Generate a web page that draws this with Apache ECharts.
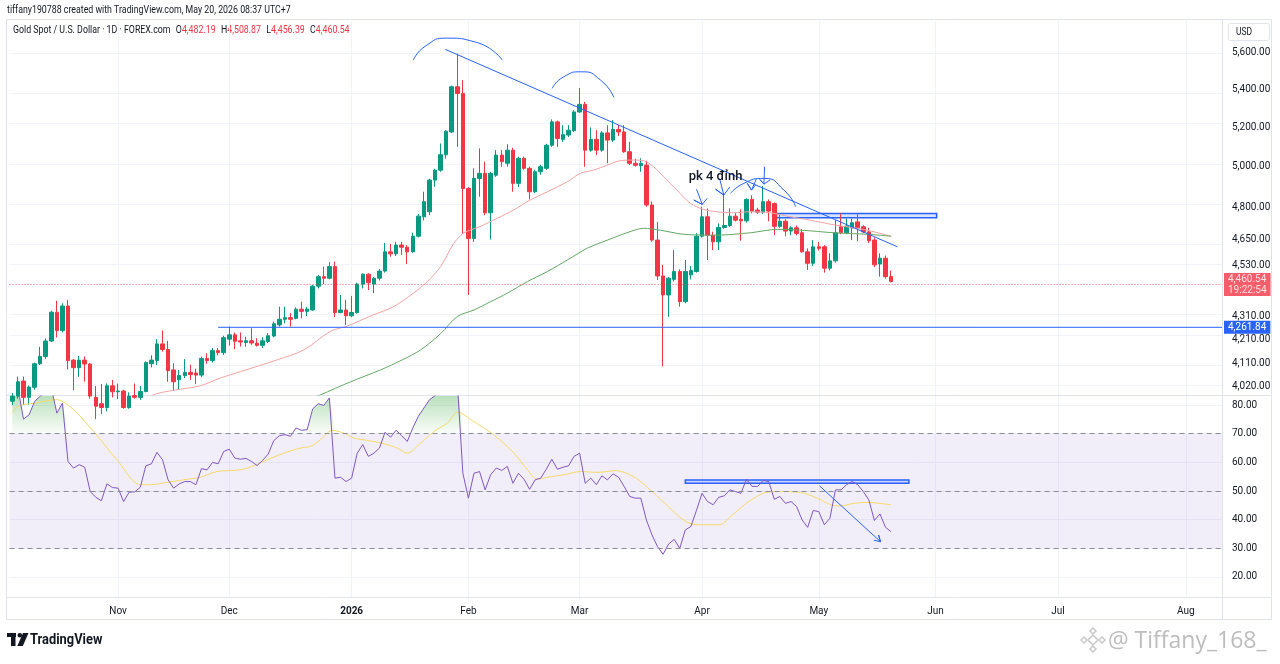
<!DOCTYPE html>
<html>
<head>
<meta charset="utf-8">
<script src="https://cdn.jsdelivr.net/npm/echarts@6/dist/echarts.min.js"></script>
<style>html,body{margin:0;padding:0;background:#fff;}#c{width:1280px;height:664px;}</style>
</head>
<body>
<div id="c"></div>
<script>
const FONT = 'Roboto, "Liberation Sans", sans-serif';
const AXIS_FS = 10;

// ---- categories (trading days) ----
const firstDay = '2025-10-07', lastDay = '2026-08-11';
const holidays = ['2025-12-25', '2026-01-01', '2026-04-03'];
const monthTicks = [['2025-11-03','Nov'],['2025-12-01','Dec'],['2026-01-02','2026'],['2026-02-02','Feb'],['2026-03-02','Mar'],
  ['2026-04-01','Apr'],['2026-05-01','May'],['2026-06-01','Jun'],['2026-07-01','Jul'],['2026-08-03','Aug']];
const priceTicks = [5600, 5400, 5200, 5000, 4800, 4650, 4530, 4310, 4210, 4110, 4020];
const rsiTicks = [80, 70, 60, 50, 40, 30, 20];
const priceRange = [3984.3, 5791.3];
const rsiRange = [12.98, 83.18];

// ---- candles: [open, high, low, close] from 2025-10-07 ----
const ohlc = [
[3960,3992,3945,3980],[3980,4058,3970,4037],[4040,4058,3945,3975],[3975,4022,3945,4016],[4015,4115,4005,4110],
[4110,4180,4105,4140],[4140,4215,4130,4204],[4204,4333,4200,4326],[4326,4376,4219,4248],[4248,4365,4240,4353],
[4353,4380,4087,4123],[4125,4130,4003,4094],[4094,4142,4057,4125],[4125,4140,4038,4109],[4109,4112,3970,3980],
[3975,4020,3890,3940],[3950,4028,3910,3935],[3935,4030,3920,4021],[4021,4044,3975,3997],[3997,4030,3968,4000],
[4000,4005,3930,3935],[3935,3995,3930,3980],[3982,4030,3970,3975],[3975,4020,3965,3998],[3998,4120,3995,4115],
[4110,4145,4095,4125],[4123,4212,4105,4192],[4192,4248,4160,4169],[4169,4205,4037,4082],[4085,4112,4003,4037],
[4045,4085,4006,4062],[4062,4129,4052,4075],[4075,4106,4045,4066],[4072,4090,4028,4064],[4064,4140,4055,4132],
[4132,4153,4110,4123],[4123,4175,4115,4164],[4164,4175,4145,4156],[4156,4226,4146,4218],[4212,4265,4185,4230],
[4230,4240,4170,4203],[4205,4240,4181,4200],[4198,4222,4180,4205],[4205,4258,4188,4196],[4195,4216,4181,4186],
[4186,4220,4175,4205],[4202,4237,4196,4226],[4225,4286,4220,4277],[4272,4350,4265,4296],[4296,4350,4279,4303],
[4303,4322,4265,4296],[4300,4347,4296,4339],[4339,4372,4300,4330],[4330,4350,4310,4340],[4336,4445,4333,4440],
[4440,4489,4430,4482],[4482,4527,4449,4475],[4475,4547,4470,4527],[4527,4550,4305,4325],[4325,4401,4322,4336],
[4336,4380,4272,4311],[4311,4397,4305,4325],[4325,4455,4320,4449],[4449,4497,4430,4493],[4493,4497,4423,4455],
[4449,4480,4409,4475],[4475,4516,4465,4507],[4507,4635,4500,4594],[4594,4630,4572,4585],[4585,4640,4575,4625],
[4625,4640,4580,4615],[4615,4625,4539,4594],[4594,4682,4590,4666],[4666,4770,4660,4760],[4757,4877,4740,4829],
[4781,4940,4765,4934],[4934,4990,4901,4983],[4983,5117,4975,5060],[5060,5185,5040,5180],[5176,5420,5170,5414],
[5414,5596,5100,5378],[5378,5450,4678,4893],[4893,4900,4401,4655],[4655,4992,4640,4942],[4942,5092,4853,4967],
[4967,5025,4765,4776],[4776,4975,4651,4967],[4958,5083,4950,5058],[5058,5083,5000,5025],[5017,5113,5000,5083],
[5083,5095,4877,4918],[4918,5050,4900,5042],[5042,5050,4985,4992],[4992,5000,4840,4877],[4877,4985,4870,4975],
[4975,5010,4960,5000],[4992,5115,4985,5108],[5108,5241,5100,5228],[5228,5235,5100,5142],[5138,5211,5125,5162],
[5160,5211,5150,5185],[5182,5289,5175,5280],[5280,5407,5275,5320],[5320,5333,5000,5083],[5083,5199,5075,5138],
[5138,5185,5058,5083],[5083,5180,5075,5171],[5171,5211,5017,5134],[5134,5237,5125,5189],[5189,5211,5155,5176],
[5176,5211,5070,5075],[5075,5125,5008,5017],[5017,5040,5000,5007],[5005,5042,4975,5017],[5008,5030,4805,4813],
[4813,4830,4640,4648],[4648,4733,4467,4485],[4485,4535,4099,4401],[4401,4480,4306,4475],[4470,4602,4460,4505],
[4505,4515,4350,4372],[4372,4557,4365,4505],[4490,4530,4470,4509],[4505,4680,4500,4666],[4666,4805,4660,4757],
[4757,4797,4557,4670],[4670,4687,4602,4640],[4640,4726,4602,4707],[4707,4861,4700,4716],[4716,4797,4710,4760],
[4760,4775,4735,4741],[4745,4792,4645,4738],[4738,4845,4730,4840],[4840,4860,4773,4784],[4789,4800,4770,4779],
[4780,4905,4770,4829],[4829,4840,4736,4784],[4820,4825,4671,4712],[4712,4773,4705,4736],[4736,4745,4666,4690],
[4690,4712,4670,4705],[4705,4716,4670,4679],[4682,4700,4590,4594],[4594,4610,4512,4542],[4542,4648,4530,4617],
[4617,4640,4600,4610],[4617,4625,4500,4520],[4520,4587,4510,4553],[4553,4741,4545,4682],[4710,4773,4675,4682],
[4682,4749,4675,4713],[4705,4749,4648,4729],[4733,4773,4643,4705],[4710,4717,4680,4686],[4686,4705,4635,4645],
[4648,4660,4525,4535],[4539,4587,4482,4565],[4565,4577,4473,4482],[4482.19,4508.87,4456.39,4460.54]
];
const lastPrice = 4460.54;
const lastLabel = ['4,460.54', '19:22:54'];
const supportLevel = 4261.84;

// ---- moving averages on price (read points: [bar index, price]) ----
const maFast = [[24,3970],[26,3990],[29.6,4005],[33.8,4021],[37.4,4052],[41,4078],[47.6,4126],[52.4,4167],[57.2,4245],
  [60.2,4267],[64.4,4310],[68.5,4350],[72.1,4409],[74.6,4460],[77,4527],[79.3,4630],[81.1,4680],[84.1,4711],[87.2,4750],
  [90.1,4789],[93.1,4837],[96.2,4877],[99.8,4926],[102.1,4967],[104.5,4983],[107,5008],[109.3,5030],[111.7,5033],
  [113.5,5030],[115.3,5000],[117.1,4950],[119.5,4885],[121.9,4821],[124.3,4792],[126.7,4781],[129.7,4776],[132.7,4781],
  [136.3,4776],[139.9,4757],[143.5,4741],[147.1,4722],[150.7,4707],[153.7,4694],[158,4666]];
const maSlow = [[54,3975],[55.4,3985],[60.8,4037],[66.2,4085],[70.1,4126],[73.4,4167],[77,4235],[80,4308],[83,4336],
  [86,4372],[89,4409],[92.6,4460],[96.2,4505],[99.8,4557],[103.4,4611],[107,4648],[110.5,4682],[113.5,4703],[116.5,4694],
  [120.7,4675],[126.7,4671],[132.7,4682],[137.6,4698],[141.9,4694],[147.7,4682],[153.7,4675],[158,4666]];

// ---- RSI ----
const rsi = [
85,86,75.1,76.6,81.3,83.1,84.5,86,77.2,80.7,
60.3,58.0,59.2,58.3,49.8,47.8,46.6,52.5,51.2,51.0,
46.3,49.6,49.7,51.3,58.8,59.5,63.5,60.9,53.9,51.0,
52.5,53.3,53.3,52.2,57.8,57.4,60.0,59.5,63.8,64.6,
61.5,61.1,61.4,60.3,58.9,60.7,62.9,67.6,69.3,69.7,
69.1,72.0,71.2,71.4,78.7,80.5,79.9,82.5,54.5,54.8,
53.3,54.5,63.2,66.2,62.1,63.2,65.0,70.5,68.8,71.2,
69.3,67.3,72.0,76.1,79.0,81.9,83.3,85,87,89,
88,56.2,47.5,56.2,56.8,50.4,55.7,58.0,57.2,58.6,
52.7,56.2,54.1,50.6,53.9,54.5,57.6,61.1,57.6,58.3,
58.8,62.1,63.2,52.7,54.5,52.2,55.3,53.9,56.0,54.8,
51.6,48.1,47.5,47.5,39.9,34.7,30.6,27.9,31.5,33.1,
30.0,36.4,37.6,43.2,49.2,46.3,45.2,47.8,48.3,50.4,
49.8,49.2,54.1,51.6,51.6,53.7,53.3,47.1,48.1,45.7,
46.3,44.6,39.9,37.3,43.2,42.8,38.2,40.5,50.4,50.4,
52.2,53.3,52.2,49.8,46.9,39.7,42.0,37.3,35.8];
const rsiMA = [[0,77.5],[1,79.6],[4,80.7],[8,81.9],[11,78.4],[14.6,70.8],[18.8,60.9],[23,52.2],[24.8,52.2],[27.8,53.0],
  [30.8,53.9],[33.8,54.8],[36.8,56.8],[41,57.4],[43.4,58.8],[45.8,60.9],[48.8,63.2],[51.8,65.0],[53.6,65.6],[55.4,67.9],
  [57.5,71.2],[59.6,70.2],[61.4,68.5],[63.8,67.7],[66.8,66.5],[69.2,65.0],[71,63.2],[73.4,66.7],[75.8,70.8],[78.2,73.7],
  [80.1,77.5],[82.9,74.3],[86.5,69.7],[90.2,63.2],[92.6,57.4],[94.4,54.1],[96.2,54.8],[99.2,55.7],[102.2,56.8],
  [105.2,56.5],[108.6,57.1],[111.6,55.1],[114,51.6],[117.6,45.2],[121.1,39.3],[123.5,38.2],[127.1,38.2],[129.5,41.7],
  [132.4,46.3],[135.7,49.6],[138.1,49.8],[141.7,49.5],[144.7,47.5],[147.1,45.2],[148.9,44.8],[151.3,45.7],[153.7,46.0],[158,45.2]];
const rsiLevels = [70, 50, 30];

// ---- drawings (points: [bar index, price]) ----
const trendLine = [[77.85, 5619], [159.14, 4617]];
const arc1 = [[72.09,5559],[74.25,5637],[78.21,5682],[83.25,5660],[88.11,5559]];
const arc2 = [[97.05,5405],[99.14,5468],[102.33,5495],[105.75,5450],[108.14,5357]];
const arc3 = [[129.13,4869],[131.53,4918],[135.13,4942],[138.73,4885],[140.84,4805]];
const arrow1 = [[123.02,4889],[124.05,4816],[122.52,4837],[124.05,4816],[124.93,4845]];
const arrow2 = [[127.16,4942],[127.93,4861],[126.44,4889],[127.93,4861],[129.01,4901]];
const arrow3 = [[133.81,4942],[132.91,4885],[132.14,4918],[132.91,4885],[133.63,4910]];
const arrow4 = [[135.26,5000],[135.13,4914],[134.41,4937],[135.13,4914],[136.21,4934]];
const noteText = 'pk 4 đỉnh';
const notePos = [126.44, 4949];
const boxMain = [[137.4, 4773], [166.2, 4752]];
const supportStart = 37.0;
// RSI pane drawings: [bar index, RSI]
const boxRsi = [[121.0, 53.8], [161.2, 52.7]];
const arrowRsi = [[145.15,51.75],[156.1,32.29],[155.75,34.63],[156.1,32.29],[154.91,32.82]];

const headerLine1 = 'tiffany190788 created with TradingView.com, May 20, 2026 08:37 UTC+7';
const symbolTitle = 'Gold Spot / U.S. Dollar · 1D · FOREX.com';
const headerOHLC = [['O','4,482.19'],['H','4,508.87'],['L','4,456.39'],['C','4,460.54']];

// ---- build ----
function buildDates() {
  const out = [];
  let d = new Date(firstDay + 'T00:00:00Z');
  const end = new Date(lastDay + 'T00:00:00Z');
  while (d <= end) {
    const wd = d.getUTCDay();
    const s = d.toISOString().slice(0, 10);
    if (wd !== 0 && wd !== 6 && holidays.indexOf(s) < 0) out.push(s);
    d = new Date(d.getTime() + 86400000);
  }
  return out;
}
const dates = buildDates();
const N = dates.length;
const labelOf = {};
monthTicks.forEach(t => { labelOf[t[0]] = t[1]; });
const tickIdx = monthTicks.map(t => dates.indexOf(t[0]));
const ln = Math.log;
const fmt = v => v.toLocaleString('en-US', {minimumFractionDigits: 2, maximumFractionDigits: 2});
const lnPts = arr => arr.map(p => [p[0], ln(p[1])]);
const BLUE = '#2962FF';
const GRIDC = '#F0F3FA';

const drawLine = (pts, smooth) => ({
  type: 'line', xAxisIndex: 2, yAxisIndex: 0, data: lnPts(pts), symbol: 'none', smooth: smooth || false,
  lineStyle: {color: BLUE, width: 1}, itemStyle: {color: BLUE}, silent: true, z: 4
});

const option = {
  animation: false,
  backgroundColor: '#ffffff',
  textStyle: {fontFamily: FONT},
  grid: [
    {left: 9.6, right: 58, top: 19, height: 376, outerBoundsMode: 'none'},
    {left: 9.6, right: 58, top: 396, height: 201, outerBoundsMode: 'none'}
  ],
  xAxis: [
    {type: 'category', gridIndex: 0, data: dates, boundaryGap: true, axisLine: {show: false}, axisTick: {show: false},
     axisLabel: {show: false}, splitLine: {show: false}},
    {type: 'category', gridIndex: 1, data: dates, boundaryGap: true, axisLine: {show: false}, axisTick: {show: false},
     splitLine: {show: false},
     axisLabel: {interval: (i) => tickIdx.indexOf(i) >= 0, margin: 9, color: '#131722', fontSize: AXIS_FS, fontFamily: FONT,
       formatter: (v) => { const l = labelOf[v] || ''; return l === '2026' ? '{b|2026}' : l; },
       rich: {b: {fontWeight: 'bold', fontSize: AXIS_FS, fontFamily: FONT, color: '#131722'}}}},
    {type: 'value', gridIndex: 0, min: -0.5, max: N - 0.5, show: false},
    {type: 'value', gridIndex: 1, min: -0.5, max: N - 0.5, show: false}
  ],
  yAxis: [
    {type: 'value', gridIndex: 0, position: 'right', min: ln(priceRange[0]), max: ln(priceRange[1]),
     splitLine: {show: false}, axisLine: {show: false},
     axisTick: {show: false, customValues: priceTicks.map(ln)},
     axisLabel: {customValues: priceTicks.map(ln), formatter: v => fmt(Math.round(Math.exp(v) * 100) / 100),
       color: '#131722', fontSize: AXIS_FS, fontFamily: FONT, margin: 10}},
    {type: 'value', gridIndex: 1, position: 'right', min: rsiRange[0], max: rsiRange[1],
     splitLine: {show: false}, axisLine: {show: false},
     axisTick: {show: false, customValues: rsiTicks},
     axisLabel: {customValues: rsiTicks, formatter: v => v.toFixed(2), color: '#131722', fontSize: AXIS_FS, fontFamily: FONT, margin: 10}}
  ],
  series: [
    // grid lines main pane + resistance box
    {type: 'line', xAxisIndex: 2, yAxisIndex: 0, data: [], silent: true, z: 0,
     markLine: {silent: true, z: 0, symbol: ['none','none'], label: {show: false}, lineStyle: {color: GRIDC, width: 1, type: 'solid'},
       data: tickIdx.map(i => ({xAxis: i})).concat(priceTicks.map(p => ({yAxis: ln(p)})))},
     markArea: {silent: true, itemStyle: {color: 'rgba(41,98,255,0.18)', borderColor: BLUE, borderWidth: 1.5},
       data: [[{coord: [boxMain[0][0], ln(boxMain[0][1])]}, {coord: [boxMain[1][0], ln(boxMain[1][1])]}]]}},
    // candles
    {type: 'candlestick', xAxisIndex: 0, yAxisIndex: 0, barWidth: '72%', z: 2,
     data: ohlc.map(r => [ln(r[0]), ln(r[3]), ln(r[2]), ln(r[1])]),
     itemStyle: {color: '#089981', color0: '#F23645', borderColor: '#089981', borderColor0: '#F23645', borderWidth: 1},
     markLine: {silent: true, symbol: ['none','none'], data: [{yAxis: ln(lastPrice)}],
       lineStyle: {color: '#F23645', width: 1, type: [1, 2], opacity: 0.8},
       label: {show: true, position: 'end', distance: 2, formatter: lastLabel.join('\n'), backgroundColor: '#F23645',
         color: '#ffffff', fontSize: AXIS_FS, lineHeight: 11, padding: [1, 4, 0, 4], fontFamily: FONT}}},
    // moving averages
    {type: 'line', xAxisIndex: 2, yAxisIndex: 0, data: lnPts(maFast), symbol: 'none', smooth: 0.3, silent: true, z: 3,
     lineStyle: {color: '#F3A3A3', width: 1}},
    {type: 'line', xAxisIndex: 2, yAxisIndex: 0, data: lnPts(maSlow), symbol: 'none', smooth: 0.3, silent: true, z: 3,
     lineStyle: {color: '#66A866', width: 1}},
    // support ray with price tag
    {type: 'line', xAxisIndex: 2, yAxisIndex: 0, data: [[supportStart, ln(supportLevel)], [N - 0.5, ln(supportLevel)]],
     symbol: 'none', silent: true, z: 4, clip: false,
     lineStyle: {color: BLUE, width: 1}, itemStyle: {color: BLUE},
     endLabel: {show: true, distance: 2, formatter: fmt(supportLevel), backgroundColor: BLUE, color: '#ffffff',
       fontSize: AXIS_FS, padding: [2, 4, 1, 4], fontFamily: FONT}},
    // drawings
    drawLine(trendLine),
    drawLine(arc1, 0.6), drawLine(arc2, 0.6), drawLine(arc3, 0.6),
    drawLine(arrow1), drawLine(arrow2), drawLine(arrow3), drawLine(arrow4),
    {type: 'scatter', xAxisIndex: 2, yAxisIndex: 0, data: [[notePos[0], ln(notePos[1])]], symbolSize: 2,
     itemStyle: {color: 'rgba(0,0,0,0)'}, silent: true, z: 6,
     label: {show: true, position: 'inside', formatter: noteText, color: '#131722', fontSize: 13, fontWeight: 500,
       textBorderWidth: 0, opacity: 1, fontFamily: 'Roboto, "Noto Sans", sans-serif'}},
    // RSI pane helpers
    {type: 'line', xAxisIndex: 3, yAxisIndex: 1, data: [], silent: true, z: 0,
     markLine: {silent: true, z: 0, symbol: ['none','none'], label: {show: false}, lineStyle: {color: GRIDC, width: 1, type: 'solid'},
       data: tickIdx.map(i => ({xAxis: i})).concat(rsiTicks.map(v => ({yAxis: v})))},
     markArea: {silent: true, itemStyle: {color: 'rgba(126,87,194,0.1)'},
       data: [[{yAxis: 30}, {yAxis: 70}]]}},
    {type: 'line', xAxisIndex: 3, yAxisIndex: 1, data: [], silent: true, z: 1,
     markLine: {silent: true, symbol: ['none','none'], label: {show: false},
       lineStyle: {color: '#8A8D96', width: 1, type: [5, 4]}, data: rsiLevels.map(v => ({yAxis: v}))}},
    // overbought / oversold fills
    {type: 'line', xAxisIndex: 1, yAxisIndex: 1, stack: 'ob', data: rsi.map(() => 70), symbol: 'none', silent: true,
     lineStyle: {width: 0, opacity: 0}, z: 1},
    {type: 'line', xAxisIndex: 1, yAxisIndex: 1, stack: 'ob', data: rsi.map(v => Math.max(v - 70, 0)), symbol: 'none', silent: true,
     lineStyle: {width: 0, opacity: 0}, z: 1,
     areaStyle: {color: {type: 'linear', x: 0, y: 396, x2: 0, y2: 434, global: true,
       colorStops: [{offset: 0, color: 'rgba(76,175,80,0.55)'}, {offset: 1, color: 'rgba(76,175,80,0.03)'}]}}},
    {type: 'line', xAxisIndex: 1, yAxisIndex: 1, stack: 'os', data: rsi.map(v => Math.min(v, 30)), symbol: 'none', silent: true,
     lineStyle: {width: 0, opacity: 0}, z: 1},
    {type: 'line', xAxisIndex: 1, yAxisIndex: 1, stack: 'os', data: rsi.map(v => 30 - Math.min(v, 30)), symbol: 'none', silent: true,
     lineStyle: {width: 0, opacity: 0}, z: 1,
     areaStyle: {color: {type: 'linear', x: 0, y: 597, x2: 0, y2: 548, global: true,
       colorStops: [{offset: 0, color: 'rgba(242,54,69,0.5)'}, {offset: 1, color: 'rgba(242,54,69,0.03)'}]}}},
    // RSI MA and RSI
    {type: 'line', xAxisIndex: 3, yAxisIndex: 1, data: rsiMA, symbol: 'none', smooth: 0.3, silent: true, z: 3,
     lineStyle: {color: '#F5DA6A', width: 1}},
    {type: 'line', xAxisIndex: 1, yAxisIndex: 1, data: rsi, symbol: 'none', silent: true, z: 4,
     lineStyle: {color: '#7E57C2', width: 1}},
    // RSI drawings
    {type: 'line', xAxisIndex: 3, yAxisIndex: 1, data: arrowRsi, symbol: 'none', silent: true, z: 5,
     lineStyle: {color: BLUE, width: 1},
     markArea: {silent: true, itemStyle: {color: 'rgba(41,98,255,0.18)', borderColor: BLUE, borderWidth: 1.5},
       data: [[{coord: boxRsi[0]}, {coord: boxRsi[1]}]]}}
  ],
  graphic: [
    {type: 'rect', silent: true, z: -5, shape: {x: 6.5, y: 19.5, width: 1265, height: 600}, style: {fill: 'none', stroke: '#E0E3EB', lineWidth: 1}},
    {type: 'line', silent: true, shape: {x1: 6, y1: 395.5, x2: 1272, y2: 395.5}, style: {stroke: '#E0E3EB', lineWidth: 1}},
    {type: 'line', silent: true, shape: {x1: 6, y1: 597.5, x2: 1272, y2: 597.5}, style: {stroke: '#E0E3EB', lineWidth: 1}},
    {type: 'line', silent: true, shape: {x1: 1222.5, y1: 19, x2: 1222.5, y2: 620}, style: {stroke: '#E0E3EB', lineWidth: 1}},
    {type: 'rect', silent: true, shape: {x: 1228.5, y: 23.5, width: 41, height: 17, r: 2}, style: {fill: '#ffffff', stroke: '#E0E3EB', lineWidth: 1}},
    {type: 'text', silent: true, x: 1236, y: 32, scaleX: 0.85, style: {text: 'USD', fontSize: 10, fontFamily: FONT, fill: '#131722', verticalAlign: 'middle'}},
    {type: 'text', silent: true, x: 7, y: 10, scaleX: 0.8, style: {text: headerLine1, fontSize: 11, fontFamily: FONT, fill: '#131722', verticalAlign: 'middle'}},
    {type: 'text', silent: true, x: 13, y: 30, scaleX: 0.8, style: {
      text: '{n|' + symbolTitle + '}' + headerOHLC.map(p => '  {n|' + p[0] + '}{r|' + p[1] + '}').join(''),
      verticalAlign: 'middle',
      rich: {n: {fontSize: 11, fontFamily: FONT, fill: '#131722', color: '#131722'},
             r: {fontSize: 11, fontFamily: FONT, fill: '#F23645', color: '#F23645'}}}},
    // TradingView logo
    {type: 'rect', silent: true, shape: {x: 7, y: 633, width: 9, height: 4}, style: {fill: '#131722'}},
    {type: 'rect', silent: true, shape: {x: 11, y: 633, width: 4.5, height: 13}, style: {fill: '#131722'}},
    {type: 'circle', silent: true, shape: {cx: 19.8, cy: 635.3, r: 2.3}, style: {fill: '#131722'}},
    {type: 'polygon', silent: true, shape: {points: [[23, 633], [28.5, 633], [22.8, 646], [17.3, 646]]}, style: {fill: '#131722'}},
    {type: 'text', silent: true, x: 30, y: 640, scaleX: 0.92, style: {text: 'TradingView', fontSize: 14, fontWeight: 'bold', fontFamily: 'Roboto, sans-serif', fill: '#131722', verticalAlign: 'middle'}},
    // watermark
    {type: 'polygon', silent: true, shape: {points: [[1093, 635], [1098, 640], [1093, 645], [1088, 640]]}, style: {fill: 'none', stroke: '#C9C9C9', lineWidth: 1.5}},
    {type: 'polygon', silent: true, shape: {points: [[1093, 628], [1096, 631], [1093, 634], [1090, 631]]}, style: {fill: 'none', stroke: '#C9C9C9', lineWidth: 1.5}},
    {type: 'polygon', silent: true, shape: {points: [[1093, 646], [1096, 649], [1093, 652], [1090, 649]]}, style: {fill: 'none', stroke: '#C9C9C9', lineWidth: 1.5}},
    {type: 'polygon', silent: true, shape: {points: [[1084, 637], [1087, 640], [1084, 643], [1081, 640]]}, style: {fill: 'none', stroke: '#C9C9C9', lineWidth: 1.5}},
    {type: 'polygon', silent: true, shape: {points: [[1102, 637], [1105, 640], [1102, 643], [1099, 640]]}, style: {fill: 'none', stroke: '#C9C9C9', lineWidth: 1.5}},
    {type: 'text', silent: true, x: 1108, y: 641, style: {text: '@ Tiffany_168_', fontSize: 23, fontFamily: '"Open Sans", Roboto, sans-serif', fill: '#BDBDBD', verticalAlign: 'middle'}}
  ]
};

const chart = echarts.init(document.getElementById('c'), null, {renderer: 'canvas'});
chart.setOption(option);
</script>
</body>
</html>
